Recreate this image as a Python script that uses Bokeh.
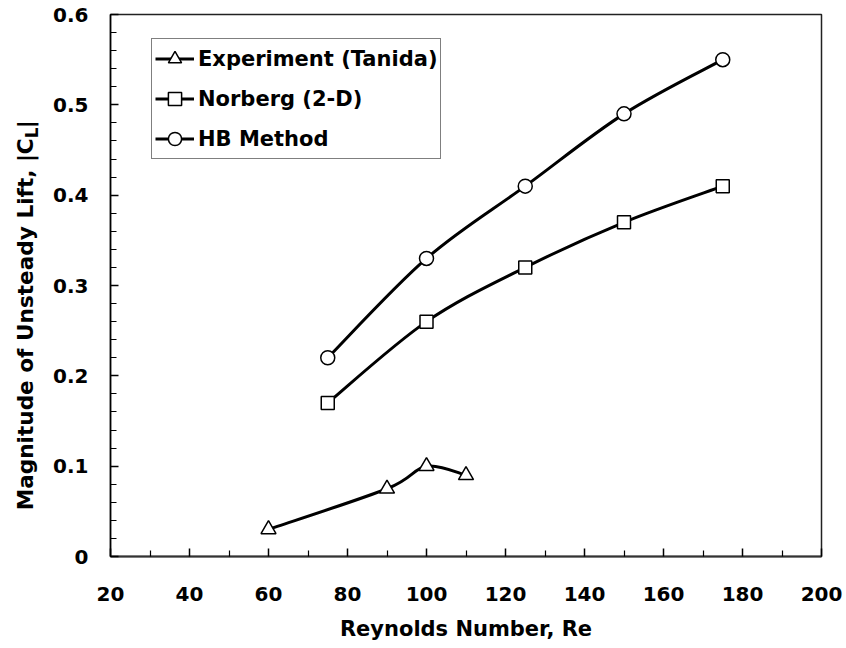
import math
import numpy as np
from bokeh.plotting import figure
from bokeh.layouts import row
from bokeh.models import (FixedTicker, Legend, LegendItem,
                          CustomJSTickFormatter, Range1d)
from bokeh.core.properties import value
from bokeh.embed import file_html
from bokeh.resources import INLINE

# ---- data -------------------------------------------------------------
# Experiment (Tanida)
exp_re = [60, 90, 100, 110]
exp_cl = [0.03, 0.075, 0.10, 0.09]
# Norberg (2-D)
nor_re = [75, 100, 125, 150, 175]
nor_cl = [0.17, 0.26, 0.32, 0.37, 0.41]
# HB Method
hb_re = [75, 100, 125, 150, 175]
hb_cl = [0.22, 0.33, 0.41, 0.49, 0.55]

x_ticks = [20, 40, 60, 80, 100, 120, 140, 160, 180, 200]
x_minor = [30, 50, 70, 90, 110, 130, 150, 170, 190]
y_ticks = [0, 0.1, 0.2, 0.3, 0.4, 0.5, 0.6]
y_minor = [0.02, 0.04, 0.06, 0.08, 0.12, 0.14, 0.16, 0.18,
           0.22, 0.24, 0.26, 0.28, 0.32, 0.34, 0.36, 0.38,
           0.42, 0.44, 0.46, 0.48, 0.52, 0.54, 0.56, 0.58]

FONT = "DejaVu Sans"
H = 648          # page height in px
SIDE_W = 50      # width of the strip holding the y-axis title


def smooth_segments(xs, ys, k=1.0 / 6.0):
    """Cubic Bezier control points (Catmull-Rom style) through the points."""
    x = np.asarray(xs, float)
    y = np.asarray(ys, float)
    n = len(x)
    seg = dict(x0=[], y0=[], x1=[], y1=[], cx0=[], cy0=[], cx1=[], cy1=[])
    for i in range(n - 1):
        a = max(i - 1, 0)
        b = min(i + 2, n - 1)
        seg["x0"].append(x[i]); seg["y0"].append(y[i])
        seg["x1"].append(x[i + 1]); seg["y1"].append(y[i + 1])
        seg["cx0"].append(x[i] + (x[i + 1] - x[a]) * k)
        seg["cy0"].append(y[i] + (y[i + 1] - y[a]) * k)
        seg["cx1"].append(x[i + 1] - (x[b] - x[i]) * k)
        seg["cy1"].append(y[i + 1] - (y[b] - y[i]) * k)
    return seg


# ---- strip with the rotated y-axis title (|C_L| needs a subscript) ------
side = figure(width=SIDE_W, height=H, output_backend="svg",
              toolbar_location=None, x_range=Range1d(0, SIDE_W),
              y_range=Range1d(0, H), min_border=0)
side.axis.visible = False
side.grid.visible = False
side.outline_line_color = None
side.background_fill_color = "white"
side.border_fill_color = "white"

rot = math.pi / 2
tkw = dict(angle=rot, text_baseline="middle", text_font=value(FONT),
           text_font_style="bold", text_color="black")
side.text(x=[25], y=[H - 148], text=["Magnitude of Unsteady Lift, |C"],
          text_align="right", text_font_size="21.6px", **tkw)
side.text(x=[31], y=[H - 148], text=["L"],
          text_align="left", text_font_size="17px", **tkw)
side.text(x=[25], y=[H - 136], text=["|"],
          text_align="left", text_font_size="21.6px", **tkw)

# ---- main chart -------------------------------------------------------
p = figure(width=846 - SIDE_W, height=H, output_backend="svg",
           toolbar_location=None,
           x_range=Range1d(20, 200), y_range=Range1d(0, 0.6),
           min_border_left=110 - SIDE_W, min_border_right=25,
           min_border_top=14, min_border_bottom=92)
p.background_fill_color = "white"
p.border_fill_color = "white"
p.outline_line_color = "#222222"
p.outline_line_width = 1.5
p.xgrid.visible = False
p.ygrid.visible = False

xa = p.xaxis[0]
xa.ticker = FixedTicker(ticks=x_ticks, minor_ticks=x_minor)
xa.axis_label = "Reynolds Number, Re"
for ax in (p.xaxis[0], p.yaxis[0]):
    ax.axis_line_color = "black"
    ax.axis_line_width = 1.5
    ax.major_tick_line_color = "black"
    ax.minor_tick_line_color = "black"
    ax.major_tick_line_width = 1.5
    ax.minor_tick_line_width = 1.2
    ax.major_tick_in = 8
    ax.major_tick_out = 0
    ax.minor_tick_in = 6
    ax.minor_tick_out = 0
    ax.major_label_text_font = FONT
    ax.major_label_text_font_style = "bold"
    ax.major_label_text_font_size = "20px"
    ax.major_label_text_color = "black"
    ax.axis_label_text_font = FONT
    ax.axis_label_text_font_style = "bold"
    ax.axis_label_text_font_size = "21px"
    ax.axis_label_text_color = "black"

xa.axis_line_width = 2
xa.axis_line_color = "#333333"
xa.major_label_standoff = 30
xa.axis_label_standoff = 13

ya = p.yaxis[0]
ya.ticker = FixedTicker(ticks=y_ticks, minor_ticks=y_minor)
ya.formatter = CustomJSTickFormatter(
    code="return tick == 0 ? '0' : tick.toFixed(1);")
ya.major_label_standoff = 22
ya.axis_label = None

# ---- series -----------------------------------------------------------
series = [
    ("Experiment (Tanida)", exp_re, exp_cl, "triangle", 15),
    ("Norberg (2-D)", nor_re, nor_cl, "square", 13),
    ("HB Method", hb_re, hb_cl, "circle", 14),
]

items = []
for name, xs, ys, marker, size in series:
    seg = smooth_segments(xs, ys)
    curve = p.bezier(x0=seg["x0"], y0=seg["y0"], x1=seg["x1"], y1=seg["y1"],
                     cx0=seg["cx0"], cy0=seg["cy0"], cx1=seg["cx1"],
                     cy1=seg["cy1"], line_color="black", line_width=3)
    pts = p.scatter(xs, ys, marker=marker, size=size, fill_color="white",
                    line_color="black", line_width=1.5)
    items.append(LegendItem(label=name, renderers=[curve, pts]))

legend = Legend(items=items, location=(41, 397),
                label_text_font=FONT, label_text_font_style="bold",
                label_text_font_size="21px", label_text_color="black",
                glyph_width=39, glyph_height=33, label_height=33,
                label_standoff=4, padding=3, spacing=7, margin=0,
                border_line_color="black", border_line_width=1,
                background_fill_color="white", background_fill_alpha=1.0)
p.add_layout(legend)

layout = row(side, p, spacing=0)
open("out.html", "w").write(file_html(layout, INLINE))
